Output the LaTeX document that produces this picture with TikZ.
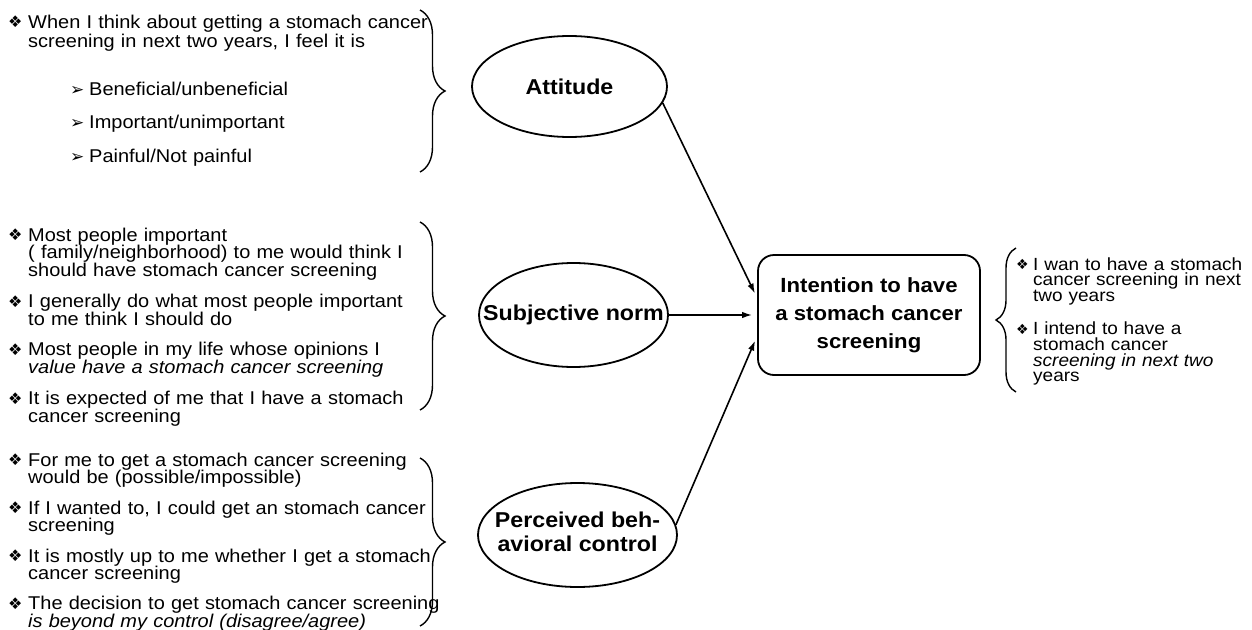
\documentclass[tikz,border=0pt]{standalone}
\usepackage{fontspec}
\setmainfont{Liberation Sans}[FakeStretch=1.08]
\newfontfamily\symf{DejaVu Sans}
\usetikzlibrary{shapes.geometric,decorations.pathreplacing,arrows.meta,calc}
\newcommand\dm{\makebox[20pt][l]{\raisebox{0.5pt}{\symf\fontsize{16}{16}\selectfont ❖}}}
\newcommand\rdm{\makebox[17pt][l]{\raisebox{0.5pt}{\symf\fontsize{14}{14}\selectfont ❖}}}
\newcommand\subarr{\makebox[19pt][l]{\symf\fontsize{17}{17}\selectfont ➢}}
\newcommand\bitem[1]{\noindent\hangindent=20pt\hangafter=1\relax\dm #1\par}
\newcommand\ritem[1]{\noindent\hangindent=17pt\hangafter=1\relax\rdm #1\par}
\newcommand\sitem[1]{\noindent\hspace*{62pt}\subarr #1\par}
\newcommand\tightlines{\lineskiplimit=-30pt\relax}
\begin{document}
\begin{tikzpicture}[x=1pt,y=-1pt]
\useasboundingbox (0,0) rectangle (1252,629);
\tikzset{
  txt/.style={inner sep=0pt, anchor=base west, text width=#1, align=left,
    font=\fontsize{18.5}{19.5}\selectfont},
  ttxt/.style={inner sep=0pt, anchor=base west, text width=#1, align=left,
    font=\fontsize{18.5}{17.5}\selectfont},
  rtxt/.style={inner sep=0pt, anchor=base west, text width=#1, align=left,
    font=\fontsize{17.6}{15.6}\selectfont},
  ell/.style={ellipse, draw, line width=1.8pt, inner sep=0pt,
    font=\bfseries\fontsize{21.5}{24}\selectfont},
  ibox/.style={draw, rounded corners=16pt, line width=1.8pt, inner sep=0pt,
    minimum width=222pt, minimum height=120pt, align=center,
    font=\bfseries\fontsize{20.5}{28}\selectfont},
  arr/.style={line width=1.6pt, -{Latex[length=10pt,width=6.5pt]}, shorten >=5pt},
  brc/.style={decorate, decoration={brace, amplitude=25pt}, line width=1.4pt},
}
% text blocks
\node[txt=440pt] (blk1) at (8,28) {\tightlines
\bitem{When I think about getting a stomach cancer\newline screening in next two years, I feel it is}\vspace{28pt}
\sitem{Beneficial/unbeneficial}\vspace{14pt}
\sitem{Important/unimportant}\vspace{14pt}
\sitem{Painful/Not painful}};
\node[ttxt=440pt] (blk2) at (8,241) {\tightlines
\bitem{Most people important\newline( family/neighborhood) to me would think I\newline should have stomach cancer screening}\vspace{14pt}
\bitem{I generally do what most people important\newline to me think I should do}\vspace{13pt}
\bitem{Most people in my life whose opinions I\newline\textit{value have a stomach cancer screening}}\vspace{14pt}
\bitem{It is expected of me that I have a stomach\newline cancer screening}};
\node[ttxt=440pt] (blk3) at (8,466) {\tightlines
\bitem{For me to get a stomach cancer screening\newline would be (possible/impossible)}\vspace{13pt}
\bitem{If I wanted to, I could get an stomach cancer\newline screening}\vspace{13pt}
\bitem{It is mostly up to me whether I get a stomach\newline cancer screening}\vspace{12.5pt}
\bitem{The decision to get stomach cancer screening\newline\textit{is beyond my control (disagree/agree)}}};
\node[rtxt=240pt] (blk4) at (1016,270) {\tightlines
\ritem{I wan to have a stomach\newline cancer screening in next\newline two years}\vspace{18pt}
\ritem{I intend to have a\newline stomach cancer\newline\textit{screening in next two}\newline years}};
% braces
\coordinate (b1t) at (420,10);  \coordinate (b1b) at (420,172);
\coordinate (b2t) at (420,222); \coordinate (b2b) at (420,410);
\coordinate (b3t) at (420,458); \coordinate (b3b) at (420,626);
\coordinate (b4t) at (1016,248); \coordinate (b4b) at (1016,392);
\draw[brc] (b1t) -- (b1b);
\draw[brc] (b2t) -- (b2b);
\draw[brc] (b3t) -- (b3b);
\draw[brc, decoration={amplitude=20pt}] (b4b) -- (b4t);
% constructs
\node[ell, minimum width=195pt, minimum height=101pt] (att) at (569.5,86.5) {\makebox[0pt]{Attitude}};
\node[ell, minimum width=189pt, minimum height=104pt] (sn) at (573.5,315) {\makebox[0pt]{Subjective norm}};
\node[ell, minimum width=199pt, minimum height=104pt] (pbc) at (577.5,535) {\makebox[0pt]{\renewcommand\arraystretch{1}\begin{tabular}{@{}c@{}}Perceived beh-\\avioral control\end{tabular}}};
\node[ibox] (int) at (869,315) {Intention to have\\a stomach cancer\\screening};
% arrows
\draw[arr] (att.-10) -- ([yshift=17pt]int.west);
\draw[arr] (sn.east) -- (int.west);
\draw[arr] (pbc.6) -- ([yshift=-21pt]int.west);
\end{tikzpicture}
\end{document}
